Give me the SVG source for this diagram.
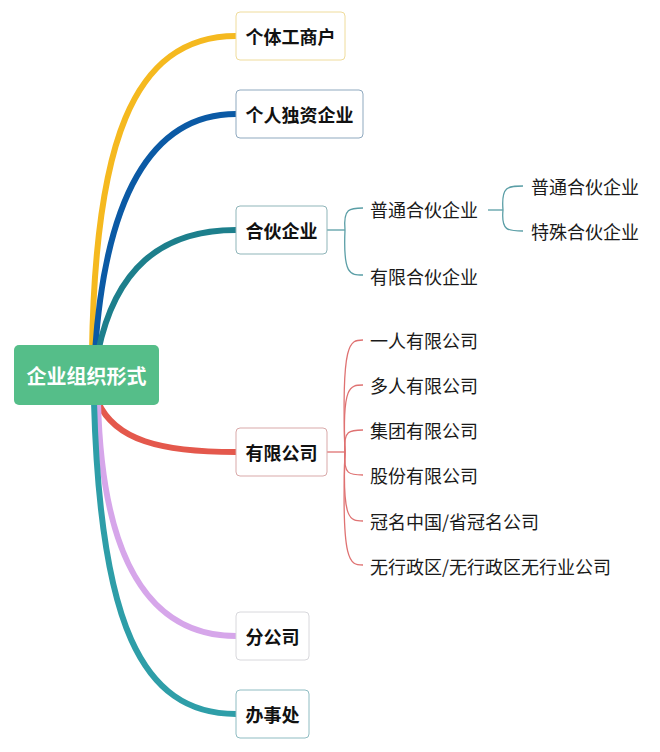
<svg xmlns="http://www.w3.org/2000/svg" width="660" height="752" viewBox="0 0 660 752">
<style>
.bg{fill:#ffffff}
.box{fill:#ffffff;stroke-width:1}
.bt{font-family:"Noto Sans CJK SC","Noto Sans",sans-serif;font-size:18px;font-weight:bold;fill:#111111;dominant-baseline:central}
.rt{font-family:"Noto Sans CJK SC","Noto Sans",sans-serif;font-size:20px;font-weight:bold;fill:#ffffff;dominant-baseline:central}
.lt{font-family:"Noto Sans CJK SC","Noto Sans",sans-serif;font-size:18px;fill:#1a1a1a;dominant-baseline:central}
.br{fill:none;stroke-width:6;stroke-linecap:round}
.sub{fill:none;stroke-width:1.3}
</style>
<rect class="bg" x="0" y="0" width="660" height="752"/>
<g id="connectors">
<path class="br" stroke="#f5b91f" d="M92 352 C95 150 130 36 236 36"/>
<path class="br" stroke="#0b5aa5" d="M95 352 C105 200 150 114 236 114"/>
<path class="br" stroke="#1d7f8c" d="M98 352 C115 270 160 230 236 230"/>
<path class="br" stroke="#e4584c" d="M98 402 C115 440 160 452 236 452"/>
<path class="br" stroke="#d6a6ea" d="M98 402 C102 560 150 636 236 636"/>
<path class="br" stroke="#2e9ea8" d="M94 402 C100 620 140 714 236 714"/>
<g stroke="#5a9ea6" class="sub">
<path class="sub" d="M327 230 L345 230"/>
<path class="sub" d="M345 230 C343 208 350 208 363 208"/>
<path class="sub" d="M345 230 C343 275 350 275 363 275"/>
<path class="sub" d="M488 210 L503 210"/>
<path class="sub" d="M503 210 C501 186 508 186 523 186"/>
<path class="sub" d="M503 210 C501 231 508 231 523 231"/>
</g>
<g stroke="#df7272" class="sub">
<path class="sub" d="M327 452 L345 452"/>
<path class="sub" d="M345 452 C341 340 350 340 363 340"/>
<path class="sub" d="M345 452 C342 385 350 385 363 385"/>
<path class="sub" d="M345 452 C343 430 350 430 363 430"/>
<path class="sub" d="M345 452 C343 475 350 475 363 475"/>
<path class="sub" d="M345 452 C342 521 350 521 363 521"/>
<path class="sub" d="M345 452 C341 565 350 565 363 565"/>
</g>
</g>
<g id="root">
<rect x="14" y="345" width="145" height="60" rx="5" fill="#55be89"/>
<text class="rt" x="86.5" y="375" text-anchor="middle">企业组织形式</text>
</g>
<g id="n1">
<rect class="box" x="236" y="12" width="109" height="48" rx="4" stroke="#efdc9c"/>
<text class="bt" x="290.5" y="36" text-anchor="middle">个体工商户</text>
</g>
<g id="n2">
<rect class="box" x="236" y="90" width="127" height="48" rx="4" stroke="#8fa9bf"/>
<text class="bt" x="299.5" y="114" text-anchor="middle">个人独资企业</text>
</g>
<g id="n3">
<rect class="box" x="236" y="206" width="91" height="48" rx="4" stroke="#8fb5b9"/>
<text class="bt" x="281.5" y="230" text-anchor="middle">合伙企业</text>
</g>
<g id="n4">
<rect class="box" x="236" y="428" width="91" height="48" rx="4" stroke="#d9a9a9"/>
<text class="bt" x="281.5" y="452" text-anchor="middle">有限公司</text>
</g>
<g id="n5">
<rect class="box" x="236" y="612" width="73" height="48" rx="4" stroke="#d8d8dc"/>
<text class="bt" x="272.5" y="636" text-anchor="middle">分公司</text>
</g>
<g id="n6">
<rect class="box" x="236" y="690" width="73" height="48" rx="4" stroke="#8fbcc2"/>
<text class="bt" x="272.5" y="714" text-anchor="middle">办事处</text>
</g>
<g id="partner-children">
<text class="lt" x="370" y="209">普通合伙企业</text>
<text class="lt" x="370" y="276">有限合伙企业</text>
<text class="lt" x="531" y="186">普通合伙企业</text>
<text class="lt" x="531" y="231">特殊合伙企业</text>
</g>
<g id="company-children">
<text class="lt" x="370" y="340">一人有限公司</text>
<text class="lt" x="370" y="385">多人有限公司</text>
<text class="lt" x="370" y="430">集团有限公司</text>
<text class="lt" x="370" y="475">股份有限公司</text>
<text class="lt" x="370" y="521">冠名中国/省冠名公司</text>
<text class="lt" x="370" y="566">无行政区/无行政区无行业公司</text>
</g>
</svg>
